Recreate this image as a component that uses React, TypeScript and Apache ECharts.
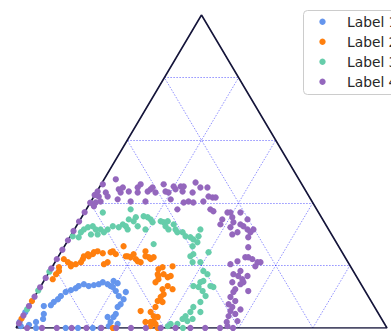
import React, { useEffect, useRef } from "react";
import * as echarts from "echarts";

// Ternary diagram drawn on a hidden cartesian grid: x runs 0–100 along the base,
// y runs 0–100 from the base to the apex (apex at x = 50).
const GRID_TICKS = [20, 40, 60, 80];
const SERIES_NAMES = ["Label 1", "Label 2", "Label 3", "Label 4"];
const SERIES_COLORS = ["#6495ed", "#ff7f0e", "#66cdaa", "#9467bd"];

const label1: number[][] = [
  [1, 2], [2.5, 5], [1.3, 0.6], [3.5, 1.0], [5.4, 1.9], [7.3, 2.9], [7.5, 4.5], [7.5, 7.0],
  [9.4, 7.3], [10.2, 8.3], [11.3, 9.2], [12.1, 10.2], [13.4, 11.5], [14.8, 12.1],
  [16.1, 12.7], [16.9, 13.4], [18.3, 14.0], [19.6, 13.4], [21.0, 13.7], [22.3, 14.0],
  [23.4, 14.6], [24.7, 14.0], [25.5, 13.4], [26.3, 15.0], [27.4, 14.3], [26.1, 13.1],
  [26.9, 11.8], [27.7, 10.2], [29.0, 9.2], [29.6, 11.5], [28.2, 7.6], [27.4, 6.7],
  [26.9, 4.5], [26.3, 3.5], [24.7, 3.5], [25.5, 1.9], [27.4, 1.3], [25.0, 0.6],
  [22.8, 0], [20.7, 0], [16.7, 0], [13.4, 0], [5.4, 0],
];

const label2: number[][] = [
  [1.5, 3], [4.3, 8.6], [26.1, 0], [9.9, 15.6], [10.8, 17.2], [11.6, 18.2], [11.6, 19.4],
  [12.9, 22.0], [14.0, 21.0], [14.8, 19.7], [14.8, 20.4], [16.1, 20.4], [17.5, 21.0],
  [18.0, 22.0], [18.3, 22.9], [19.6, 22.9], [19.4, 23.6], [20.7, 23.6], [21.0, 24.2],
  [22.0, 24.5], [23.4, 23.9], [23.7, 20.4], [24.7, 21.0], [25.5, 24.2], [26.1, 24.5],
  [26.9, 23.6], [29.0, 26.1], [29.6, 22.9], [30.1, 22.9], [30.9, 22.6], [31.7, 23.6],
  [32.3, 22.0], [32.8, 21.3], [33.6, 21.0], [34.9, 24.5], [34.9, 22.9], [35.8, 22.6],
  [36.3, 22.0], [37.1, 22.6], [38.2, 17.2], [38.4, 18.8], [39.5, 19.4], [39.8, 17.2],
  [38.4, 16.6], [37.6, 14.6], [38.4, 15.6], [40.9, 16.2], [41.7, 16.6], [42.2, 19.7],
  [42.2, 12.4], [40.9, 13.4], [39.5, 12.4], [39.8, 10.8], [39.0, 9.9], [38.2, 8.6],
  [39.5, 8.3], [37.6, 6.7], [36.3, 5.1], [37.1, 3.8], [38.2, 3.5], [37.1, 2.2],
  [36.3, 1.9], [34.9, 1.9], [37.6, 1.3], [33.6, 5.4], [36.3, 0.6], [38.2, 0],
];

const label3: number[][] = [
  [3, 6], [6, 12], [9, 18], [45, 0], [15.3, 29.3], [16.9, 29.0], [17.5, 30.6], [18.3, 31.5],
  [19.4, 32.2], [20.7, 32.5], [21.5, 31.5], [20.2, 29.9], [22.0, 29.9], [22.8, 31.5],
  [23.4, 36.9], [23.7, 30.6], [24.7, 31.5], [26.1, 32.5], [27.7, 32.2], [28.8, 33.1],
  [29.6, 32.5], [30.1, 31.5], [30.4, 34.7], [30.9, 37.9], [31.7, 34.1], [32.3, 35.4],
  [32.8, 32.5], [34.4, 35.7], [35.5, 35.4], [36.3, 34.7], [36.8, 33.8], [34.9, 31.5],
  [37.1, 26.8], [39.0, 34.1], [39.8, 33.8], [40.3, 32.5], [40.9, 34.1], [41.1, 31.5],
  [42.5, 33.1], [43.0, 31.5], [43.5, 30.6], [44.9, 30.6], [45.7, 29.3], [47.0, 29.0],
  [47.8, 28.3], [48.9, 27.4], [49.2, 29.3], [49.7, 31.5], [47.6, 26.1], [47.0, 22.9],
  [47.6, 21.0], [47.8, 23.6], [49.7, 21.0], [51.9, 24.2], [50.5, 18.2], [51.6, 17.2],
  [50.5, 15.0], [49.7, 14.6], [49.2, 13.1], [47.8, 13.4], [50.3, 11.8], [52.4, 13.4],
  [53.2, 13.1], [51.1, 10.2], [49.7, 8.3], [49.7, 5.1], [47.8, 6.7], [47.0, 5.1],
  [45.7, 3.8], [44.9, 2.9], [46.2, 2.2], [47.6, 2.9], [43.5, 1.3], [41.7, 1.3], [40.9, 0.6],
];

const label4: number[][] = [
  [0.8, 1.5], [2, 4], [3.5, 7], [5, 10], [6.5, 13], [8, 16], [9.5, 19], [11, 22],
  [12.5, 25], [14, 28], [15.5, 31], [17, 34], [18.5, 37], [20, 40], [21.2, 42.5],
  [3, 0], [7, 0], [11, 0], [15, 0], [19, 0], [23, 0], [27, 0], [31, 0], [35, 0],
  [39, 0], [43, 0], [47, 0], [51, 0], [55, 0], [58.5, 0],
  [22.0, 43.6], [22.3, 42.0], [23.4, 45.9], [24.2, 43.3], [24.7, 42.0], [22.8, 40.4],
  [21.5, 40.1], [21.0, 38.9], [26.9, 47.5], [27.7, 44.3], [28.2, 43.3], [28.8, 44.9],
  [27.4, 41.1], [30.4, 43.6], [30.9, 40.4], [32.8, 44.9], [33.6, 45.9], [32.8, 43.3],
  [35.5, 43.6], [36.3, 44.3], [36.8, 44.9], [34.9, 40.4], [37.6, 43.3], [39.8, 45.9],
  [40.3, 43.6], [41.1, 43.3], [41.7, 41.1], [42.5, 45.2], [43.0, 44.3], [44.4, 45.2],
  [44.9, 43.6], [45.2, 45.2], [43.5, 37.9], [45.2, 40.1], [46.5, 40.4], [47.6, 43.3],
  [47.8, 40.1], [48.4, 46.5], [49.7, 44.9], [50.5, 40.4], [51.6, 44.9], [51.9, 42.0],
  [53.0, 41.7], [53.8, 41.7], [52.4, 37.9], [53.2, 37.3], [55.1, 33.1], [55.6, 34.7],
  [57.0, 36.9], [57.8, 36.9], [58.3, 35.4], [58.6, 33.8], [57.8, 32.2], [58.3, 29.9],
  [59.7, 30.6], [60.5, 36.9], [60.5, 33.1], [61.3, 32.5], [62.4, 34.7], [62.4, 31.5],
  [62.6, 29.0], [63.2, 30.6], [64.0, 31.5], [62.6, 25.8], [61.8, 22.6], [62.6, 22.6],
  [63.7, 22.0], [65.1, 21.0], [64.5, 19.7], [65.9, 21.0], [59.7, 21.3], [57.8, 20.4],
  [60.5, 18.2], [59.9, 16.6], [58.6, 17.2], [58.3, 14.6], [61.0, 15.6], [61.3, 14.6],
  [62.6, 11.8], [62.4, 16.6], [60.5, 14.0], [59.1, 12.4], [58.6, 11.5], [57.8, 9.9],
  [57.3, 7.6], [58.3, 6.7], [59.1, 8.6], [57.8, 5.4], [57.3, 3.8], [59.7, 2.2],
  [57.0, 0.6], [60.5, 5.9], [59.1, 4.5], [56.8, 1.9],
];

const SERIES_DATA = [label1, label2, label3, label4];

// Triangle outline and the three families of grid lines
const outline = [[0, 0], [100, 0], [50, 100], [0, 0]];
const gridSegments = GRID_TICKS.flatMap((t) => [
  { coords: [[t / 2, t], [100 - t / 2, t]] },
  { coords: [[t, 0], [t + (100 - t) / 2, 100 - t]] },
  { coords: [[t, 0], [t / 2, t]] },
]);

// Legend box in the top-right corner (it runs past the right edge of the chart)
function legendGraphic() {
  const boxLeft = 303.5;
  const boxTop = 10.5;
  const rowTop = 21.7;
  const rowStep = 20;
  const children: any[] = [
    {
      type: "rect",
      shape: { x: boxLeft, y: boxTop, width: 110, height: 84, r: 4 },
      style: { fill: "rgba(255,255,255,0.85)", stroke: "#cccccc", lineWidth: 1 },
    },
  ];
  SERIES_NAMES.forEach((name, i) => {
    const cy = rowTop + i * rowStep;
    children.push({
      type: "circle",
      shape: { cx: 322.5, cy, r: 3.2 },
      style: { fill: SERIES_COLORS[i] },
    });
    children.push({
      type: "text",
      x: 347,
      y: cy,
      style: {
        text: name,
        fill: "#262626",
        font: "13.8px 'DejaVu Sans'",
        verticalAlign: "middle",
        align: "left",
      },
    });
  });
  return [{ type: "group", z: 100, silent: true, children }];
}

export default function App() {
  const ref = useRef<HTMLDivElement>(null);

  useEffect(() => {
    if (!ref.current) return;
    const chart = echarts.init(ref.current, null, { renderer: "svg" });
    chart.setOption({
      animation: false,
      backgroundColor: "#ffffff",
      grid: { left: 16, right: 4, top: 15, bottom: 3 },
      xAxis: { type: "value", min: 0, max: 100, show: false },
      yAxis: { type: "value", min: 0, max: 100, show: false },
      graphic: legendGraphic(),
      series: [
        {
          type: "lines",
          coordinateSystem: "cartesian2d",
          silent: true,
          z: 1,
          lineStyle: { color: "rgba(20,20,255,0.6)", width: 0.8, type: [1.5, 1.5], opacity: 1 },
          data: gridSegments,
        },
        {
          type: "line",
          silent: true,
          z: 2,
          symbol: "none",
          lineStyle: { color: "#15153a", width: 1.6 },
          data: outline,
        },
        ...SERIES_NAMES.map((name, i) => ({
          type: "scatter",
          name,
          z: 3,
          clip: false,
          symbol: "circle",
          symbolSize: 6.3,
          itemStyle: { color: SERIES_COLORS[i], opacity: 1 },
          data: SERIES_DATA[i],
        })),
      ],
    });
    return () => chart.dispose();
  }, []);

  return (
    <div
      ref={ref}
      style={{ position: "absolute", left: 0, top: 0, width: 391, height: 331 }}
    />
  );
}
